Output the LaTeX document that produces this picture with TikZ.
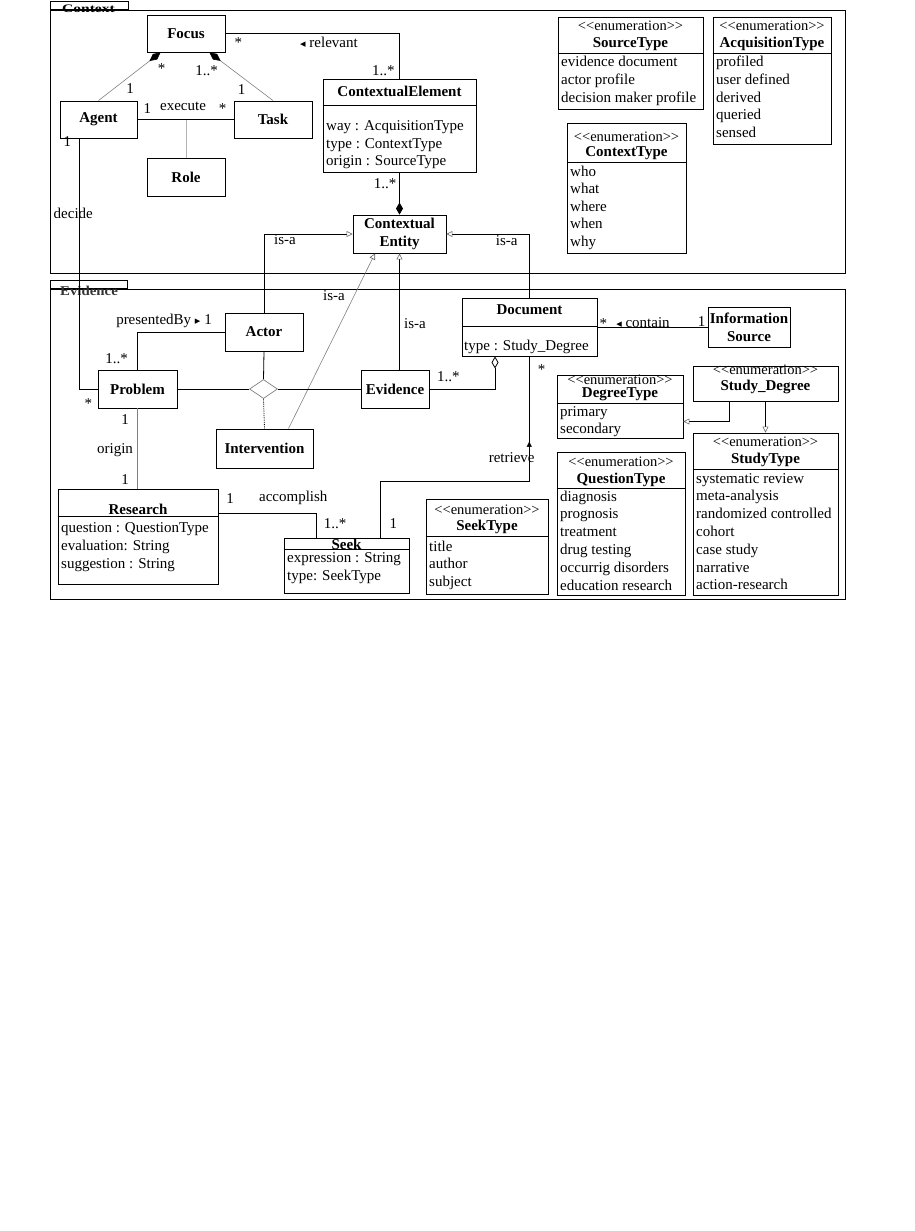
\documentclass[tikz,border=0pt]{standalone}
\usepackage{fontspec}
\usepackage{graphicx}
\setmainfont{Liberation Serif}
\newfontfamily\dejavu{DejaVu Sans}
\usetikzlibrary{arrows.meta,shapes.geometric,calc}
\newcommand\stereo{<\kern0pt<enumeration>\kern0pt>}
\newcommand\tri[1]{{\dejavu\fontsize{11}{11}\selectfont #1}}
\begin{document}
\begin{tikzpicture}[x=1pt,y=-1pt,
  every node/.style={font=\fontsize{15}{17.7}\selectfont, inner sep=0pt},
  ubox/.style={draw, line width=0.9pt, fill=white, inner sep=0pt, align=center, font=\fontsize{15}{17.7}\selectfont\bfseries},
  frame/.style={draw, line width=0.9pt, inner sep=0pt},
  ttl/.style={font=\fontsize{15}{17.7}\selectfont\bfseries},
  sttxt/.style={font=\fontsize{14.5}{17}\selectfont},
  itemlist/.style={anchor=base west, align=left, font=\fontsize{15}{#1}\selectfont},
  itemlist/.default=17.7,
  lbl/.style={font=\fontsize{15}{17.7}\selectfont},
  divider/.style={line width=0.9pt},
  conn/.style={line width=0.8pt},
  compline/.style={draw=gray, line width=0.6pt, {Diamond[length=14pt,width=7pt,color=black]}-},
  inhline/.style={line width=0.8pt, -{Triangle[open,length=6pt,width=6pt,color=gray!80!black,line width=0.6pt]}}
]
\useasboundingbox (0,0) rectangle (915,1231);

% ---------- frames ----------
\node[frame, minimum width=795pt, minimum height=263pt] (ctxframe) at (447.5,141.5) {};
\node[frame, minimum width=78pt, minimum height=8pt, anchor=south west] (ctxtab) at (50,10) {};
\node[font=\fontsize{11.5}{13}\selectfont\bfseries] (ctxlabel) at (88.5,8.3) {\scalebox{1.35}[1]{Context}};
\node[frame, minimum width=795pt, minimum height=310pt] (evframe) at (447.5,444) {};
\node[frame, minimum width=77pt, minimum height=8pt, anchor=south west] (evtab) at (50,289) {};
\node[font=\fontsize{13.5}{15}\selectfont\bfseries, text=black!80] (evlabel) at (89,290.8) {\scalebox{1.1}[1]{Evidence}};

% ---------- Context classes ----------
\node[ubox, minimum width=78pt, minimum height=37pt] (focus) at (186,33.5) {Focus};
\node[ubox, minimum width=77pt, minimum height=37pt] (agent) at (98.5,119.5) {Agent};
\node[ubox, minimum width=78pt, minimum height=37pt] (task) at (273,119.5) {Task};
\node[ubox, minimum width=78pt, minimum height=38pt] (role) at (186,177) {Role};
\node[ubox, minimum width=153pt, minimum height=93pt] (ce) at (399.5,125.5) {};
\node[ttl] (cettl) at (399.5,91.5) {ContextualElement};
\draw[divider] ($(ce.north west)+(0,27)$) -- ($(ce.north east)+(0,27)$);
\node[itemlist=17.5] (ceitems) at (326,165.5) {way : AcquisitionType\\type : ContextType\\origin : SourceType};
\node[ubox, minimum width=93pt, minimum height=38pt] (centity) at (399.5,234) {Contextual\\Entity};

\node[ubox, minimum width=145pt, minimum height=92pt] (srct) at (630.5,63) {};
\node[sttxt] (srcst) at (630.5,26) {\stereo};
\node[ttl] (srcttl) at (630.5,44) {SourceType};
\draw[divider] ($(srct.north west)+(0,37)$) -- ($(srct.north east)+(0,37)$);
\node[itemlist=18] (srcitems) at (561,102.5) {evidence document\\actor profile\\decision maker profile};

\node[ubox, minimum width=118pt, minimum height=127pt] (acqt) at (772,80.5) {};
\node[sttxt] (acqst) at (772,26) {\stereo};
\node[ttl] (acqttl) at (772,44) {AcquisitionType};
\draw[divider] ($(acqt.north west)+(0,37)$) -- ($(acqt.north east)+(0,37)$);
\node[itemlist=17.75] (acqitems) at (716,137.5) {profiled\\user defined\\derived\\queried\\sensed};

\node[ubox, minimum width=119pt, minimum height=130pt] (ctxt) at (626.5,188) {};
\node[sttxt] (ctxst) at (626.5,136.5) {\stereo};
\node[ttl] (ctxttl) at (626.5,153.5) {ContextType};
\draw[divider] ($(ctxt.north west)+(0,40)$) -- ($(ctxt.north east)+(0,40)$);
\node[itemlist=17.5] (ctxitems) at (570,246) {who\\what\\where\\when\\why};

% ---------- Evidence classes ----------
\node[ubox, minimum width=78pt, minimum height=38pt] (actor) at (264,332) {Actor};
\node[ubox, minimum width=79pt, minimum height=38pt] (problem) at (137.5,389) {Problem};
\node[ubox, minimum width=68pt, minimum height=38pt] (evid) at (395,389) {Evidence};
\node[ubox, minimum width=97pt, minimum height=39pt] (interv) at (264.5,448.5) {Intervention};
\node[diamond, draw=gray, line width=0.7pt, fill=white, minimum width=28pt, minimum height=19pt, inner sep=0pt] (nary) at (263.5,389) {};

\node[ubox, minimum width=135pt, minimum height=58pt] (document) at (529.5,327) {};
\node[ttl] (docttl) at (529.5,309.5) {Document};
\draw[divider] ($(document.north west)+(0,29)$) -- ($(document.north east)+(0,29)$);
\node[itemlist] (docitems) at (464,350) {type : Study\_Degree};

\node[ubox, minimum width=82pt, minimum height=40pt] (infosrc) at (749,327) {Information\\Source};

\node[ubox, minimum width=126pt, minimum height=63pt] (degt) at (620,406.5) {};
\node[sttxt] (degst) at (620,379.3) {\stereo};
\node[ttl] (degttl) at (620,394) {DegreeType};
\draw[divider] ($(degt.north west)+(0,28.5)$) -- ($(degt.north east)+(0,28.5)$);
\node[itemlist=17.5] (degitems) at (560,433.5) {primary\\secondary};

\node[ubox, minimum width=145pt, minimum height=35pt] (studydeg) at (765.5,383.5) {};
\node[sttxt] (sdst) at (765.5,370) {\stereo};
\node[ttl] (sdttl) at (765.5,386.5) {Study\_Degree};

\node[ubox, minimum width=145pt, minimum height=162pt] (studyt) at (765.5,514) {};
\node[sttxt] (stst) at (765.5,442) {\stereo};
\node[ttl] (stttl) at (765.5,460) {StudyType};
\draw[divider] ($(studyt.north west)+(0,37)$) -- ($(studyt.north east)+(0,37)$);
\node[itemlist=17.8] (stitems) at (696,589.8) {systematic review\\meta-analysis\\randomized controlled\\cohort\\case study\\narrative\\action-research};

\node[ubox, minimum width=128pt, minimum height=143pt] (questt) at (621,523.5) {};
\node[sttxt] (qtst) at (621,462) {\stereo};
\node[ttl] (qtttl) at (621,479.5) {QuestionType};
\draw[divider] ($(questt.north west)+(0,36.5)$) -- ($(questt.north east)+(0,36.5)$);
\node[itemlist=17.9] (qtitems) at (560,590.5) {diagnosis\\prognosis\\treatment\\drug testing\\occurrig disorders\\education research};

\node[ubox, minimum width=122pt, minimum height=95pt] (seekt) at (487,546.5) {};
\node[sttxt] (skst) at (487,510) {\stereo};
\node[ttl] (skttl) at (487,527) {SeekType};
\draw[divider] ($(seekt.north west)+(0,38)$) -- ($(seekt.north east)+(0,38)$);
\node[itemlist=17.5] (skitems) at (429,586) {title\\author\\subject};

\node[ubox, minimum width=125pt, minimum height=55pt] (seek) at (346.5,565.5) {};
\node[ttl] (seekttl) at (346.5,544) {Seek};
\draw[divider] ($(seek.north west)+(0,11.5)$) -- ($(seek.north east)+(0,11.5)$);
\node[itemlist=18.7] (seekitems) at (287,580.7) {expression : String\\type: SeekType};

\node[ubox, minimum width=160pt, minimum height=95pt] (research) at (138,536.5) {};
\node[ttl] (resttl) at (138,509.5) {Research};
\draw[divider] ($(research.north west)+(0,28.3)$) -- ($(research.north east)+(0,28.3)$);
\node[itemlist=18] (resitems) at (61,568) {question : QuestionType\\evaluation: String\\suggestion : String};

% ---------- connectors ----------
\draw[compline] ([xshift=14pt]focus.south west) -- (agent.north);
\draw[compline] ([xshift=-16pt]focus.south east) -- (task.north);
\draw[conn] (agent.east) -- (task.west);
\draw[gray!60, line width=0.6pt] (role.north |- agent.east) -- (role.north);
\draw[conn] (focus.east) -| (ce.north);
\draw[conn, {Diamond[length=12pt,width=7pt]}-] (centity.north) -- (ce.south);
\draw[inhline] (actor.north) |- (centity.west);
\draw[inhline] (document.north) |- (centity.east);
\draw[inhline] (centity.south |- evid.north) -- (centity.south);
\draw[inhline, draw=gray, line width=0.6pt] ([xshift=24pt]interv.north) -- ([xshift=-24.5pt]centity.south);
\draw[conn] (problem.north) |- (actor.west);
\draw[conn] ([xshift=-19.5pt]agent.south) |- (problem.west);
\draw[conn] (problem.east) -- (nary.west);
\draw[conn] (nary.east) -- (evid.west);
\draw[conn] (actor.south) -- (nary.north);
\draw[conn, densely dotted] (nary.south) -- (interv.north);
\draw[gray, line width=0.6pt] (problem.south) -- (problem.south |- research.north);
\draw[conn] ([yshift=23pt]research.east) -| ([xshift=-30.5pt]seek.north);
\draw[conn] (document.south) -- ++(0,125) -| ([xshift=34pt]seek.north);
\draw[conn, {Diamond[open,length=12pt,width=7pt]}-] ([xshift=-34.5pt]document.south) |- (evid.east);
\draw[conn] (document.east) -- (infosrc.west);
\draw[inhline] ([xshift=-36pt]studydeg.south) |- ([yshift=-15pt]degt.east);
\draw[inhline] (studydeg.south) -- (studydeg.south |- studyt.north);

% ---------- labels ----------
\node[lbl] (l1) at (161.7,69) {*};
\node[lbl] (l2) at (130,89) {1};
\node[lbl] (l3) at (206.7,70.7) {1..*};
\node[lbl] (l4) at (241.7,89.3) {1};
\node[lbl] (l5) at (147.3,108.3) {1};
\node[lbl] (l6) at (183,106.7) {execute};
\node[lbl] (l7) at (222.7,108.3) {*};
\node[lbl] (l8) at (67.3,141.7) {1};
\node[lbl] (l9) at (73.3,213.3) {decide};
\node[lbl] (l10) at (238.3,42.7) {*};
\node[lbl] (l11) at (329,42.7) {\tri{◂} relevant};
\node[lbl] (l12) at (383.3,71) {1..*};
\node[lbl] (l13) at (385,184) {1..*};
\node[lbl] (l14) at (285,240) {is-a};
\node[lbl] (l15) at (506.7,240.7) {is-a};
\node[lbl] (l16) at (334,296) {is-a};
\node[lbl] (l17) at (415,323.3) {is-a};
\node[lbl] (l18) at (164,321) {presentedBy \tri{▸} 1};
\node[lbl] (l19) at (116.7,358.3) {1..*};
\node[lbl] (l20) at (88.3,403.3) {*};
\node[lbl] (l21) at (125,419.3) {1};
\node[lbl] (l22) at (115,450) {origin};
\node[lbl] (l23) at (125,479.3) {1};
\node[lbl] (l24) at (230,498.3) {1};
\node[lbl] (l25) at (293.3,498.3) {accomplish};
\node[lbl] (l26) at (335,523.3) {1..*};
\node[lbl] (l27) at (393.3,523.3) {1};
\node[lbl] (l28) at (448.3,376.7) {1..*};
\node[lbl] (l29) at (541.7,369.3) {*};
\node[lbl] (l30) at (529.3,444.3) {\tri{▴}};
\node[lbl] (l31) at (511.7,457.7) {retrieve};
\node[lbl] (l32) at (603.3,323.3) {*};
\node[lbl] (l33) at (643,323) {\tri{◂} contain};
\node[lbl] (l34) at (701.7,321.7) {1};
\end{tikzpicture}
\end{document}
